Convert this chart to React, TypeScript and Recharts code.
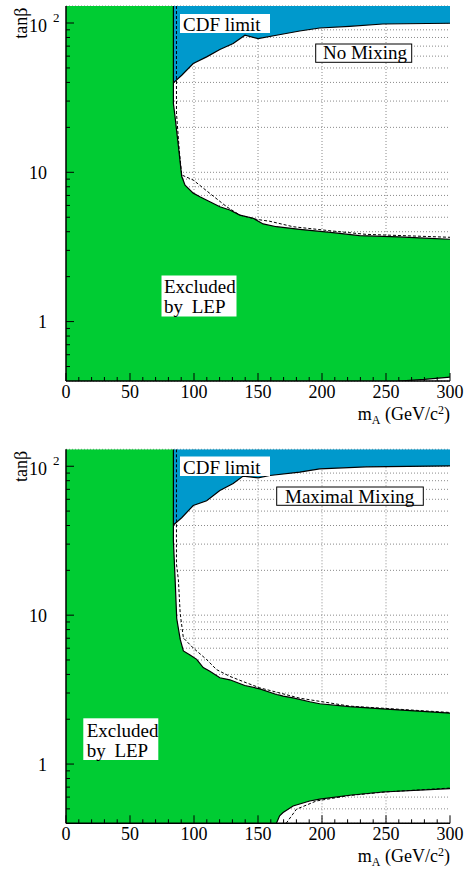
import { ComposedChart, Area, Line, XAxis, YAxis, CartesianGrid } from 'recharts'

const SERIF = "'Liberation Serif', 'Times New Roman', Times, serif"
const GREEN = '#00cc33'
const BLUE = '#0099cc'
const GRID = '#8a8a8a'

// axis ranges and ticks
const M_RANGE = [0, 300]
const TANB_RANGE = [0.4, 130]
const M_TICKS = [0, 10, 20, 30, 40, 50, 60, 70, 80, 90, 100, 110, 120, 130, 140, 150, 160, 170, 180, 190, 200, 210, 220, 230, 240, 250, 260, 270, 280, 290, 300]
const M_LABELS = [0, 50, 100, 150, 200, 250, 300]
const M_GRID = [50, 100, 150, 200, 250]
const TANB_TICKS = [0.5, 0.6, 0.7, 0.8, 0.9, 1, 2, 3, 4, 5, 6, 7, 8, 9, 10, 20, 30, 40, 50, 60, 70, 80, 90, 100]
const TANB_LABELS = [1, 10, 100]

// no mixing: LEP excluded band (lower / upper edge in tanβ)
const NOMIX_LEP_M = [0, 83.9, 83.9, 83.9, 85.2, 87.8, 90.4, 93.0, 99.4, 104.6, 112.4, 120.2, 128.0, 135.8, 146.2, 154.0, 164.4, 182.6, 208.5, 229.3, 260.0, 280.0, 300.0]
const NOMIX_LEP_HI = [130, 130, 39.7, 28.9, 23.5, 15.0, 9.4, 8.2, 7.25, 6.86, 6.35, 5.88, 5.59, 5.17, 4.92, 4.51, 4.32, 4.15, 3.94, 3.76, 3.69, 3.62, 3.56]
const NOMIX_LEP_LO = [0.4, 0.4, 0.4, 0.4, 0.4, 0.4, 0.4, 0.4, 0.4, 0.4, 0.4, 0.4, 0.4, 0.4, 0.4, 0.4, 0.4, 0.4, 0.4, 0.4, 0.4, 0.41, 0.425]
// no mixing: CDF limit (lower edge of the blue region)
const NOMIX_CDF_M = [83.9, 90.4, 99.4, 109.9, 120.2, 130.6, 139.8, 150.1, 164.4, 182.6, 198.2, 221.5, 247.5, 300]
const NOMIX_CDF_LO = [39.7, 44.7, 53.5, 59.3, 66.4, 72.8, 82.8, 78.7, 82.8, 88.4, 92.6, 95.0, 98.5, 99.6]
// no mixing: expected limit
const NOMIX_EXP_M = [86.3, 86.3, 88.5, 90.4, 99.4, 112.4, 125.5, 135.8, 148.8, 159.2, 177.4, 208.5, 234.5, 300]
const NOMIX_EXP_TB = [130, 25, 14, 9.6, 8.87, 7.22, 5.88, 5.17, 4.84, 4.7, 4.32, 4.04, 3.84, 3.67]

// maximal mixing: LEP excluded band
const MAX_LEP_M = [0, 83.9, 83.9, 83.9, 85.2, 86.5, 89.2, 91.7, 96.9, 102.1, 107.2, 112.4, 120.2, 128.0, 139.7, 151.4, 164.4, 166.9, 169.6, 177.4, 190.4, 198.2, 221.5, 247.5, 300]
const MAX_LEP_HI = [130, 130, 40.3, 31.5, 17.8, 9.5, 6.9, 5.75, 5.4, 5.05, 4.45, 4.2, 3.8, 3.68, 3.37, 3.2, 2.93, 2.9, 2.86, 2.78, 2.62, 2.54, 2.43, 2.35, 2.2]
const MAX_LEP_LO = [0.4, 0.4, 0.4, 0.4, 0.4, 0.4, 0.4, 0.4, 0.4, 0.4, 0.4, 0.4, 0.4, 0.4, 0.4, 0.4, 0.4, 0.449, 0.472, 0.523, 0.565, 0.581, 0.617, 0.649, 0.684]
// maximal mixing: CDF limit
const MAX_CDF_M = [83.9, 90.4, 99.4, 109.9, 120.2, 130.6, 138.4, 150.1, 159.2, 182.6, 198.2, 234.5, 300]
const MAX_CDF_LO = [40.3, 45.1, 54.5, 58.6, 68.8, 76.7, 85.9, 83.6, 86.7, 91.3, 96.1, 99.1, 100.5]
// maximal mixing: expected limits (high and low tanβ)
const MAX_EXP_M = [86.3, 86.3, 87.8, 89.2, 91.7, 99.4, 110.0, 117.6, 128.0, 141.0, 151.4, 182.6, 221.5, 300]
const MAX_EXP_TB = [130, 22, 17.3, 10.3, 7.03, 6.02, 5.02, 4.31, 3.88, 3.51, 3.25, 2.77, 2.45, 2.22]
const MAX_EXP_LOW_M = [172, 180, 195.6, 221.5, 250, 300]
const MAX_EXP_LOW_TB = [0.4, 0.497, 0.565, 0.615, 0.65, 0.69]

type Pt = { m: number; tb: number }
type Band = { m: number; band: [number, number] }

const curve = (m: number[], tb: number[]): Pt[] => m.map((v, i) => ({ m: v, tb: tb[i] }))
const band = (m: number[], lo: number[], hi: number[]): Band[] => m.map((v, i) => ({ m: v, band: [lo[i], hi[i]] }))
const upperEdge = (m: number[], hi: number[]) => curve(m.slice(1), hi.slice(1))
const lowerEdge = (m: number[], lo: number[]) => {
  const s = Math.max(lo.findIndex((v) => v > TANB_RANGE[0]) - 1, 0)
  return curve(m.slice(s), lo.slice(s))
}

const FRAME = { stroke: '#000', strokeWidth: 1.5 }
const TICK = { stroke: '#000', strokeWidth: 1 }
const FONT = { fontFamily: SERIF }

const BottomTick = ({ x, y, payload }: any) => {
  const major = payload.value % 50 === 0
  return (
    <g>
      <line x1={x} x2={x} y1={y} y2={y - (major ? 8 : 4)} {...TICK} />
      {M_LABELS.includes(payload.value) && (
        <text x={x} y={y + 17} textAnchor="middle" fontSize={18} style={FONT} fill="#000">
          {payload.value}
        </text>
      )}
    </g>
  )
}

const TopTick = ({ x, y, payload }: any) => {
  const major = payload.value % 50 === 0
  return <line x1={x} x2={x} y1={y} y2={y + (major ? 8 : 4)} {...TICK} />
}

const LeftTick = ({ x, y, payload }: any) => {
  const major = TANB_LABELS.includes(payload.value)
  return (
    <g>
      <line x1={x} x2={x + (major ? 8 : 4)} y1={y} y2={y} {...TICK} />
      {payload.value === 100 ? (
        <text style={FONT} fill="#000">
          <tspan x={x - 19} y={y + 8.5} textAnchor="end" fontSize={18}>10</tspan>
          <tspan x={x - 13} y={y - 1.5} fontSize={13}>2</tspan>
        </text>
      ) : major ? (
        <text x={x - 19} y={y + 6.5} textAnchor="end" fontSize={18} style={FONT} fill="#000">
          {payload.value}
        </text>
      ) : null}
    </g>
  )
}

const RightTick = ({ x, y, payload }: any) => {
  const major = TANB_LABELS.includes(payload.value)
  return <line x1={x} x2={x - (major ? 8 : 4)} y1={y} y2={y} {...TICK} />
}

type NoteProps = { x: number; y: number; w: number; h: number; border?: boolean; children: any }
const Note = ({ x, y, w, h, border, children }: NoteProps) => (
  <g>
    <rect x={x} y={y} width={w} height={h} fill="#fff" stroke={border ? '#000' : 'none'} strokeWidth={1} />
    {children}
  </g>
)

type PanelProps = {
  top: number
  plotBottom: number
  lep: Band[]
  cdf: Band[]
  solid: Pt[][]
  dashed: Pt[][]
  children: any
}

function Panel({ top, plotBottom, lep, cdf, solid, dashed, children }: PanelProps) {
  return (
    <div style={{ position: 'relative', width: 467, height: 441 }}>
      <ComposedChart width={467} height={441} margin={{ top, right: 17, bottom: 0, left: 26 }}>
        <CartesianGrid vertical={false} stroke={GRID} strokeDasharray="1 2" />
        <CartesianGrid horizontal={false} verticalValues={M_GRID} stroke={GRID} strokeDasharray="1 2" />
        <Area data={cdf} dataKey="band" type="linear" fill={BLUE} fillOpacity={1} stroke="none" dot={false} activeDot={false} isAnimationActive={false} />
        <Area data={lep} dataKey="band" type="linear" fill={GREEN} fillOpacity={1} stroke="none" dot={false} activeDot={false} isAnimationActive={false} />
        {solid.map((d, i) => (
          <Line key={`s${i}`} data={d} dataKey="tb" type="linear" stroke="#000" strokeWidth={1.2} dot={false} activeDot={false} isAnimationActive={false} />
        ))}
        {dashed.map((d, i) => (
          <Line key={`d${i}`} data={d} dataKey="tb" type="linear" stroke="#000" strokeWidth={1} strokeDasharray="3 2" dot={false} activeDot={false} isAnimationActive={false} />
        ))}
        <XAxis dataKey="m" type="number" domain={M_RANGE} allowDataOverflow ticks={M_TICKS} interval={0} height={441 - plotBottom} tickSize={0} tickMargin={0} tickLine={false} tick={BottomTick} axisLine={FRAME} />
        <XAxis xAxisId="top" orientation="top" type="number" domain={M_RANGE} allowDataOverflow ticks={M_TICKS} interval={0} height={0} tickSize={0} tickMargin={0} tickLine={false} tick={TopTick} axisLine={FRAME} />
        <YAxis type="number" scale="log" domain={TANB_RANGE} allowDataOverflow ticks={TANB_TICKS} interval={0} width={40} tickSize={0} tickMargin={0} tickLine={false} tick={LeftTick} axisLine={FRAME} />
        <YAxis yAxisId="right" orientation="right" type="number" scale="log" domain={TANB_RANGE} allowDataOverflow ticks={TANB_TICKS} interval={0} width={0} tickSize={0} tickMargin={0} tickLine={false} tick={RightTick} axisLine={FRAME} />
      </ComposedChart>
      <svg width={467} height={441} style={{ position: 'absolute', left: 0, top: 0, pointerEvents: 'none', fontFamily: SERIF }} fill="#000">
        {children}
        <text x={450} y={plotBottom + 39} textAnchor="end" fontSize={18}>
          m<tspan dy={4} fontSize={12}>A</tspan>
          <tspan dy={-4}> (GeV/c</tspan>
          <tspan dy={-6} fontSize={12}>2</tspan>
          <tspan dy={6}>)</tspan>
        </text>
        <text transform={`translate(26.5, ${top + 1.5}) rotate(-90)`} textAnchor="end" fontSize={18}>
          tanβ
        </text>
      </svg>
    </div>
  )
}

export default function App() {
  return (
    <div style={{ position: 'absolute', left: 0, top: 0, width: 467, height: 882, background: '#fff' }}>
      <Panel
        top={6}
        plotBottom={381}
        lep={band(NOMIX_LEP_M, NOMIX_LEP_LO, NOMIX_LEP_HI)}
        cdf={band(NOMIX_CDF_M, NOMIX_CDF_LO, NOMIX_CDF_M.map(() => TANB_RANGE[1]))}
        solid={[upperEdge(NOMIX_LEP_M, NOMIX_LEP_HI), lowerEdge(NOMIX_LEP_M, NOMIX_LEP_LO), curve(NOMIX_CDF_M, NOMIX_CDF_LO)]}
        dashed={[curve(NOMIX_EXP_M, NOMIX_EXP_TB)]}
      >
        <Note x={180} y={14} w={90} h={19}>
          <text x={183} y={31} fontSize={19}>CDF limit</text>
        </Note>
        <Note x={315.7} y={44} w={96} h={18.3} border>
          <text x={323} y={59} fontSize={19}>No Mixing</text>
        </Note>
        <Note x={161.5} y={275.5} w={75} h={41}>
          <text x={164} y={292.5} fontSize={19}>Excluded</text>
          <text x={164} y={312.5} fontSize={19}>by</text>
          <text x={191.7} y={312.5} fontSize={19}>LEP</text>
        </Note>
      </Panel>
      <Panel
        top={8.3}
        plotBottom={382.3}
        lep={band(MAX_LEP_M, MAX_LEP_LO, MAX_LEP_HI)}
        cdf={band(MAX_CDF_M, MAX_CDF_LO, MAX_CDF_M.map(() => TANB_RANGE[1]))}
        solid={[upperEdge(MAX_LEP_M, MAX_LEP_HI), lowerEdge(MAX_LEP_M, MAX_LEP_LO), curve(MAX_CDF_M, MAX_CDF_LO)]}
        dashed={[curve(MAX_EXP_M, MAX_EXP_TB), curve(MAX_EXP_LOW_M, MAX_EXP_LOW_TB)]}
      >
        <Note x={180} y={15.5} w={90} h={19.5}>
          <text x={183} y={33.3} fontSize={19}>CDF limit</text>
        </Note>
        <Note x={276.7} y={46} w={146.6} h={18.3} border>
          <text x={285} y={61.7} fontSize={19}>Maximal Mixing</text>
        </Note>
        <Note x={83.3} y={277.3} w={75} h={41.7}>
          <text x={86.7} y={295.7} fontSize={19}>Excluded</text>
          <text x={86.7} y={315.7} fontSize={19}>by</text>
          <text x={114.4} y={315.7} fontSize={19}>LEP</text>
        </Note>
      </Panel>
    </div>
  )
}
